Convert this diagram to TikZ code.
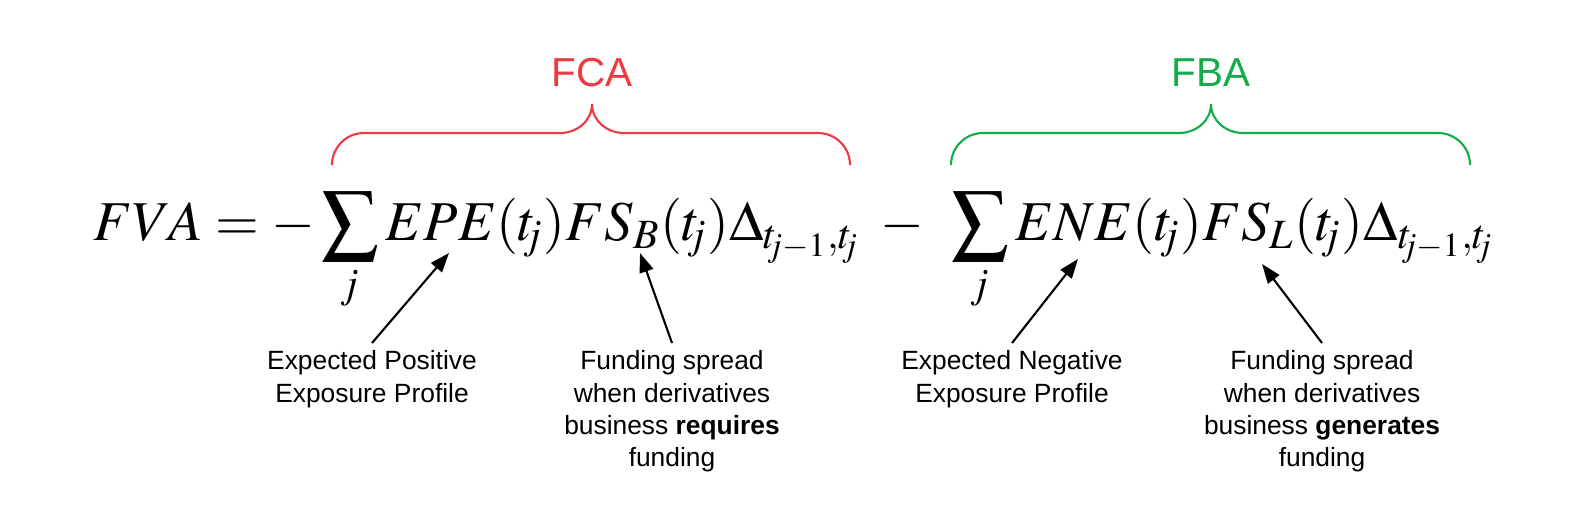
\documentclass[tikz,border=0pt]{standalone}
\usepackage{mathptmx}
\usepackage[no-math]{fontspec}
\newfontfamily\labelfont{Liberation Sans}
\usetikzlibrary{arrows.meta}

\definecolor{fcared}{RGB}{238,56,66}
\definecolor{fbagreen}{RGB}{20,172,72}

\newcommand{\fundbrace}[4]
{
	\draw[#1,line width=0.6pt] (#2,361) to[out=90,in=180] (#2+32,393) -- (#3-32,393)
		to[out=0,in=-90] (#3,422) to[out=-90,in=180] (#3+32,393) -- (#4-32,393)
		to[out=0,in=90] (#4,361)
}
\newcommand{\tsub}{t_{\mkern-4mu j}}
\newcommand{\tprev}{t_{\mkern-4mu j-1}}

\tikzset{
	adjtitle/.style={font=\labelfont\fontsize{11.5}{14}\selectfont,inner sep=0pt,anchor=base},
	explain/.style={font=\labelfont\fontsize{7.5}{9.2}\selectfont,align=center,inner sep=2pt,anchor=north},
	pointer/.style={-{Triangle[length=5.5pt,width=4pt]},line width=0.6pt}
}

\begin{document}
\begin{tikzpicture}[x=0.01cm,y=0.01cm]
	\useasboundingbox (0,0) rectangle (1586,526);

	%%% Formula
	\node[inner sep=0pt,anchor=base west,font=\fontsize{16}{19}\selectfont] (fva) at (93,286)
		{$\displaystyle FVA=-\sum_{j}EPE(\tsub)FS_B(\tsub)\Delta_{\tprev,\tsub}\;-\;\,\sum_{j}ENE(\tsub)FS_L(\tsub)\Delta_{\tprev,\tsub}$};

	%%% Braces [ FCA, FBA ]
	\fundbrace{fcared}{332}{592}{850};
	\node[adjtitle,text=fcared] (FCA) at (592,440) {FCA};
	\fundbrace{fbagreen}{951}{1211}{1470};
	\node[adjtitle,text=fbagreen] (FBA) at (1211,440) {FBA};

	%%%%%%%%% ARROW TIPS
	\coordinate (epe) at (449,273);
	\coordinate (fsb) at (640,273);
	\coordinate (ene) at (1078,267);
	\coordinate (fsl) at (1262,262);

	%%%%%%%%% EXPLANATIONS
	\node[explain] (EPEtext) at (372,183) {Expected Positive\\Exposure Profile};
	\node[explain] (FSBtext) at (672,183) {Funding spread\\when derivatives\\business \textbf{requires}\\funding};
	\node[explain] (ENEtext) at (1012,183) {Expected Negative\\Exposure Profile};
	\node[explain] (FSLtext) at (1322,183) {Funding spread\\when derivatives\\business \textbf{generates}\\funding};

	\draw[pointer] (EPEtext.north) -- (epe);
	\draw[pointer] (FSBtext.north) -- (fsb);
	\draw[pointer] (ENEtext.north) -- (ene);
	\draw[pointer] (FSLtext.north) -- (fsl);
\end{tikzpicture}
\end{document}
